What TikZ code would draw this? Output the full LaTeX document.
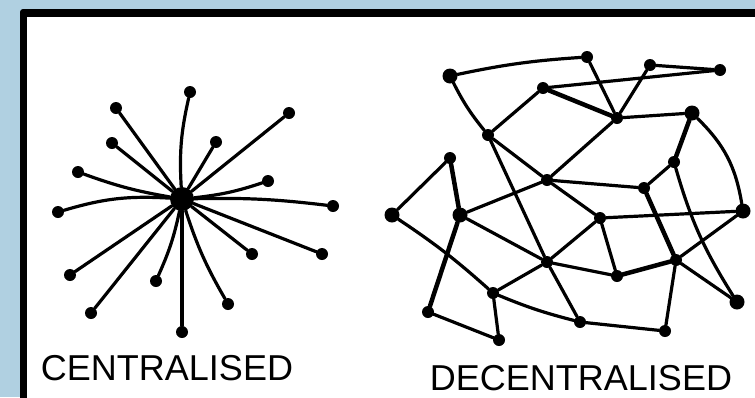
\documentclass[tikz,border=0pt]{standalone}
\usepackage{fontspec}
\setmainfont{Liberation Sans}
\usetikzlibrary{positioning}
\definecolor{frameblue}{RGB}{176,208,225}

\begin{document}
\begin{tikzpicture}[x=1pt, y=-1pt,
  dot/.style={circle, fill=black, inner sep=0pt, minimum size=12pt},
  bigdot/.style={dot, minimum size=15pt},
  hub/.style={dot, minimum size=24pt},
  link/.style={draw=black, line width=3.2pt, line cap=round},
  heavy/.style={link, line width=4.5pt},
  lbl/.style={font=\fontsize{36}{36}\selectfont, inner sep=0pt}
]

  % ========== FRAME ==========
  \useasboundingbox (0,0) rectangle (755,397);
  \clip (0,0) rectangle (755,397);
  \fill[frameblue] (0,0) rectangle (755,397);
  \fill[black, rounded corners=3pt] (20,9) rectangle (770,410);
  \fill[white] (27,17) rectangle (770,410);

  % ========== CENTRALISED: star ==========
  \node[hub] (hub) at (182,199) {};
  \node[dot] (s1)  at (190,92)  {};
  \node[dot] (s2)  at (116,108) {};
  \node[dot] (s3)  at (289,113) {};
  \node[dot] (s4)  at (112,143) {};
  \node[dot] (s5)  at (216,142) {};
  \node[dot] (s6)  at (78,172)  {};
  \node[dot] (s7)  at (268,181) {};
  \node[dot] (s8)  at (58,212)  {};
  \node[dot] (s9)  at (333,206) {};
  \node[dot] (s10) at (322,254) {};
  \node[dot] (s11) at (252,254) {};
  \node[dot] (s12) at (70,275)  {};
  \node[dot] (s13) at (156,281) {};
  \node[dot] (s14) at (228,304) {};
  \node[dot] (s15) at (91,313)  {};
  \node[dot] (s16) at (182,332) {};

  \draw[link] (hub) to[bend left=8] (s1);
  \draw[link] (hub) -- (s2);
  \draw[link] (hub) -- (s3);
  \draw[link] (hub) -- (s4);
  \draw[link] (hub) -- (s5);
  \draw[link] (hub) to[bend left=5] (s6);
  \draw[link] (hub) to[bend right=6] (s7);
  \draw[link] (hub) to[bend right=10] (s8);
  \draw[link] (hub) to[bend left=4] (s9);
  \draw[link] (hub) -- (s10);
  \draw[link] (hub) -- (s11);
  \draw[link] (hub) -- (s12);
  \draw[link] (hub) to[bend left=6] (s13);
  \draw[link] (hub) to[bend right=6] (s14);
  \draw[link] (hub) -- (s15);
  \draw[link] (hub) -- (s16);

  \node[lbl] (central) at (167,368) {CENTRALISED};

  % ========== DECENTRALISED: mesh ==========
  \node[bigdot] (A) at (450,76)  {};
  \node[dot]    (B) at (587,57)  {};
  \node[dot]    (C) at (650,65)  {};
  \node[dot]    (D) at (720,70)  {};
  \node[dot]    (E) at (543,88)  {};
  \node[dot]    (F) at (617,118) {};
  \node[bigdot] (G) at (692,113) {};
  \node[dot]    (H) at (488,135) {};
  \node[dot]    (I) at (450,158) {};
  \node[dot]    (J) at (674,162) {};
  \node[dot]    (K) at (547,180) {};
  \node[dot]    (L) at (644,188) {};
  \node[bigdot] (M) at (392,215) {};
  \node[bigdot] (N) at (460,215) {};
  \node[bigdot] (O) at (743,211) {};
  \node[dot]    (P) at (600,218) {};
  \node[dot]    (Q) at (547,262) {};
  \node[dot]    (R) at (617,276) {};
  \node[dot]    (S) at (676,260) {};
  \node[dot]    (T) at (493,293) {};
  \node[dot]    (U) at (428,312) {};
  \node[bigdot] (V) at (737,302) {};
  \node[dot]    (W) at (580,322) {};
  \node[dot]    (X) at (665,331) {};
  \node[dot]    (Y) at (499,340) {};

  % top rows
  \draw[link] (A) to[bend left=4] (B);
  \draw[link] (A) to[bend right=6] (H);
  \draw[link] (B) -- (F);
  \draw[link] (C) -- (F);
  \draw[link] (C) -- (D);
  \draw[link] (E) -- (D);
  \draw[heavy] (E) -- (F);
  \draw[link] (E) -- (H);
  \draw[link] (F) -- (G);
  \draw[link] (F) -- (K);
  \draw[link] (H) -- (K);
  \draw[link] (H) -- (Q);
  \draw[heavy] (G) -- (J);
  \draw[link] (G) to[bend left=18] (O);

  % middle rows
  \draw[link] (J) -- (L);
  \draw[link] (J) to[bend right=8] (V);
  \draw[link] (K) -- (L);
  \draw[link] (K) -- (P);
  \draw[link] (K) -- (N);
  \draw[heavy] (L) -- (S);
  \draw[link] (P) -- (O);
  \draw[link] (P) -- (R);
  \draw[link] (P) -- (Q);
  \draw[link] (Q) -- (R);
  \draw[heavy] (R) -- (S);
  \draw[link] (S) -- (O);
  \draw[link] (S) -- (V);
  \draw[link] (S) -- (X);
  \draw[link] (N) -- (Q);
  \draw[link] (I) -- (M);
  \draw[heavy] (I) -- (N);

  % bottom rows
  \draw[link] (M) to[bend left=4] (T);
  \draw[heavy] (N) -- (U);
  \draw[link] (U) -- (Y);
  \draw[link] (T) -- (Y);
  \draw[link] (T) -- (Q);
  \draw[link] (T) to[bend right=4] (W);
  \draw[link] (W) -- (X);
  \draw[link] (Q) -- (W);

  \node[lbl] (decentral) at (581,378) {DECENTRALISED};

\end{tikzpicture}
\end{document}
